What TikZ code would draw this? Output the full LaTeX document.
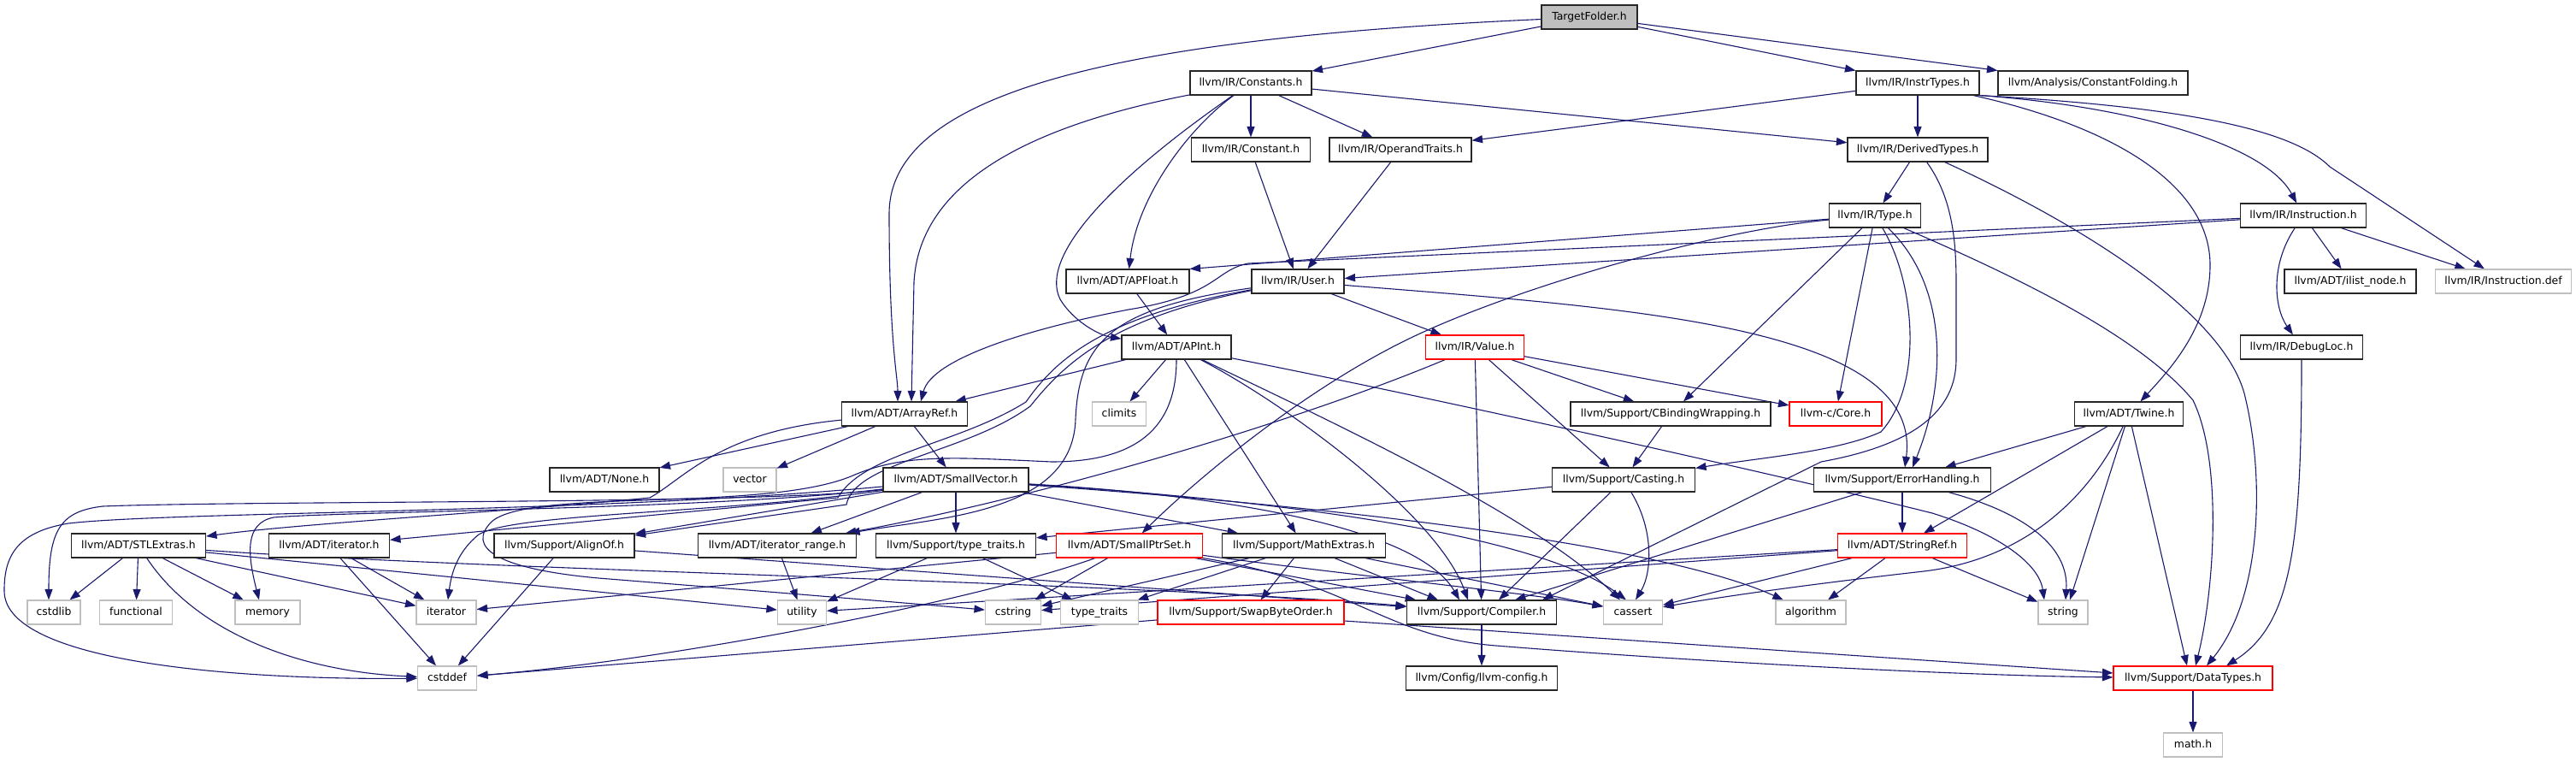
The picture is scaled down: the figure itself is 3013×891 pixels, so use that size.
\documentclass[tikz,border=0pt]{standalone}
\usepackage{fontspec}
\setmainfont{DejaVu Sans}
\usetikzlibrary{arrows.meta}
\definecolor{edgec}{RGB}{25,25,112}
\definecolor{gborder}{RGB}{191,191,191}
\definecolor{tfill}{RGB}{191,191,191}
\definecolor{rborder}{RGB}{255,0,0}
\pgfdeclarelayer{back}
\pgfdeclarelayer{edges}
\pgfsetlayers{back,edges,main}
\begin{document}
\begin{tikzpicture}[x=1pt,y=-1pt,
  nb/.style={draw=black!85, line width=1.1pt, fill=white, minimum height=28pt, inner sep=0pt, text height=9.2pt, text depth=2.6pt, font=\fontsize{12.4}{14}\selectfont},
  box/.style={nb, minimum width=#1pt},
  gbox/.style={nb, draw=gborder, minimum width=#1pt},
  rbox/.style={nb, draw=rborder, minimum width=#1pt},
  e/.style={draw=edgec, line width=1.1pt, -{Triangle[length=12.5pt,width=9pt]}}
]
\useasboundingbox (0,0) rectangle (3013,891);
\begin{pgfonlayer}{back}
\fill[white] (0,0) rectangle (3013,891);
\end{pgfonlayer}

% ---------- nodes ----------
\node[box=112, fill=tfill] (TF) at (1859,20) {TargetFolder.h};
\node[box=142] (Cs) at (1463,97) {llvm/IR/Constants.h};
\node[box=144] (IT) at (2243,97) {llvm/IR/InstrTypes.h};
\node[box=222] (CF) at (2448,97) {llvm/Analysis/ConstantFolding.h};
\node[box=139] (C) at (1463,175) {llvm/IR/Constant.h};
\node[box=166] (OT) at (1638,175) {llvm/IR/OperandTraits.h};
\node[box=164] (DT) at (2243,175) {llvm/IR/DerivedTypes.h};
\node[box=107] (Ty) at (2193,252) {llvm/IR/Type.h};
\node[box=147] (In) at (2694,252) {llvm/IR/Instruction.h};
\node[box=144] (APF) at (1319,329) {llvm/ADT/APFloat.h};
\node[box=108] (U) at (1518,329) {llvm/IR/User.h};
\node[box=154] (IL) at (2749,329) {llvm/ADT/ilist\_node.h};
\node[gbox=159] (ID) at (2928,329) {llvm/IR/Instruction.def};
\node[box=128] (API) at (1376,406) {llvm/ADT/APInt.h};
\node[rbox=115] (V) at (1725,406) {llvm/IR/Value.h};
\node[box=143] (DL) at (2692,406) {llvm/IR/DebugLoc.h};
\node[box=147] (AR) at (1058,484) {llvm/ADT/ArrayRef.h};
\node[gbox=63] (climits) at (1309,484) {climits};
\node[box=234] (CB) at (1954,484) {llvm/Support/CBindingWrapping.h};
\node[rbox=108] (Core) at (2147,484) {llvm-c/Core.h};
\node[box=127] (Tw) at (2490,484) {llvm/ADT/Twine.h};
\node[box=128] (None) at (707,561) {llvm/ADT/None.h};
\node[gbox=62] (vector) at (877,561) {vector};
\node[box=170] (SV) at (1118,561) {llvm/ADT/SmallVector.h};
\node[box=167] (Ca) at (1899,561) {llvm/Support/Casting.h};
\node[box=207] (EH) at (2225,561) {llvm/Support/ErrorHandling.h};
\node[box=157] (STL) at (162,638) {llvm/ADT/STLExtras.h};
\node[box=141] (ith) at (385,638) {llvm/ADT/iterator.h};
\node[box=164] (AO) at (660,638) {llvm/Support/AlignOf.h};
\node[box=185] (IR) at (909,638) {llvm/ADT/iterator\_range.h};
\node[box=187] (TTh) at (1118,638) {llvm/Support/type\_traits.h};
\node[rbox=171] (SPS) at (1321,638) {llvm/ADT/SmallPtrSet.h};
\node[box=191] (ME) at (1525,638) {llvm/Support/MathExtras.h};
\node[rbox=151] (SR) at (2225,638) {llvm/ADT/StringRef.h};
\node[gbox=62] (cstdlib) at (63,716) {cstdlib};
\node[gbox=85] (functional) at (159,716) {functional};
\node[gbox=76] (memory) at (313,716) {memory};
\node[gbox=70] (iterator) at (522,716) {iterator};
\node[gbox=57] (utility) at (938,716) {utility};
\node[gbox=65] (cstring) at (1185,716) {cstring};
\node[gbox=91] (tt) at (1286,716) {type\_traits};
\node[rbox=218] (SBO) at (1463,716) {llvm/Support/SwapByteOrder.h};
\node[box=175] (Co) at (1733,716) {llvm/Support/Compiler.h};
\node[gbox=69] (cassert) at (1910,716) {cassert};
\node[gbox=82] (algorithm) at (2118,716) {algorithm};
\node[gbox=58] (string) at (2413,716) {string};
\node[gbox=69] (cstddef) at (523,793) {cstddef};
\node[box=177] (LC) at (1733,793) {llvm/Config/llvm-config.h};
\node[rbox=186] (DTy) at (2565,793) {llvm/Support/DataTypes.h};
\node[gbox=69] (math) at (2565,871) {math.h};

% ---------- edges ----------
\begin{pgfonlayer}{edges}
% TargetFolder
\draw[e] (TF) -- (Cs);
\draw[e] (TF) -- (IT);
\draw[e] (TF) -- (CF);
\draw[e] (TF) .. controls (1300,45) and (1040,110) .. (1040,250) .. controls (1040,400) and (1050,440) .. ([xshift=-8pt]AR.north);
% Constants
\draw[e] (Cs) .. controls (1190,150) and (1075,220) .. (1069,330) -- ([xshift=8pt]AR.north);
\draw[e] (Cs) .. controls (1390,150) and (1330,230) .. (APF);
\draw[e] (Cs) .. controls (1300,210) and (1215,300) .. (1240,350) .. controls (1255,375) and (1285,392) .. (API);
\draw[e] (Cs) -- (C);
\draw[e] (Cs) -- (OT);
\draw[e] (Cs) -- (DT);
% InstrTypes
\draw[e] (IT) -- (OT);
\draw[e] (IT) -- (DT);
\draw[e] (IT.south east) .. controls (2500,125) and (2650,170) .. (In);
\draw[e] (IT.south east) .. controls (2550,125) and (2680,150) .. (2725,195) -- (ID);
\draw[e] (IT) .. controls (2480,150) and (2585,220) .. (2585,310) .. controls (2585,380) and (2540,430) .. (Tw);
% Constant, OperandTraits
\draw[e] (C) -- (U);
\draw[e] (OT) -- (U);
% DerivedTypes
\draw[e] (DT) -- (Ty);
\draw[e] (DT) .. controls (2283,230) and (2288,280) .. (2288,330) -- (2288,420) .. controls (2288,480) and (2240,520) .. (2130,540) -- ([xshift=71pt]Co.north);
\draw[e] (DT) .. controls (2450,270) and (2600,370) .. (2625,460) .. controls (2650,560) and (2645,700) .. ([xshift=16pt]DTy.north);
% Type
\draw[e] (Ty) -- (APF.north east);
\draw[e] (Ty) .. controls (2000,270) and (1760,340) .. (1640,400) .. controls (1520,460) and (1400,560) .. (SPS);
\draw[e] (Ty) -- (Core);
\draw[e] (Ty) -- (CB);
\draw[e] (Ty) .. controls (2240,330) and (2250,450) .. (2200,505) .. controls (2150,528) and (2060,535) .. (Ca);
\draw[e] (Ty) .. controls (2275,330) and (2280,440) .. ([xshift=12pt]EH.north);
\draw[e] (Ty) .. controls (2350,320) and (2500,390) .. (2565,468) .. controls (2600,540) and (2590,690) .. ([xshift=3pt]DTy.north);
% Instruction
\draw[e] (In) -- (U);
\draw[e] (In) -- (1460,308) .. controls (1420,316) and (1425,345) .. (1320,362) .. controls (1200,385) and (1090,420) .. ([xshift=19pt]AR.north);
\draw[e] (In) -- (IL);
\draw[e] (In) -- (ID);
\draw[e] (In) .. controls (2655,310) and (2660,360) .. (DL);
% APFloat
\draw[e] (APF) -- (API);
% User
\draw[e] (U) -- (V);
\draw[e] (U) .. controls (1900,360) and (2250,380) .. ([xshift=3pt]EH.north);
\draw[e] (U) .. controls (1300,360) and (1262,400) .. (1258,490) .. controls (1255,600) and (1100,605) .. (IR);
\draw[e] (U) .. controls (1290,370) and (1235,420) .. (1200,470) .. controls (1120,520) and (1010,530) .. (980,582) -- (ith);
\draw[e] (U) .. controls (1300,372) and (1245,425) .. (1205,475) .. controls (1130,530) and (1000,540) .. (990,590) -- (AO);
% APInt
\draw[e] (API) -- (AR);
\draw[e] (API) -- (climits);
\draw[e] (API) .. controls (1376,500) and (1330,540) .. (1230,540) .. controls (1120,535) and (1060,530) .. (1000,555) .. controls (900,600) and (620,570) .. (575,610) .. controls (545,640) and (580,665) .. (700,676) .. controls (900,692) and (1060,705) .. (cstring);
\draw[e] (API) -- (ME);
\draw[e] (API) .. controls (1500,470) and (1680,600) .. ([xshift=-16pt]Co.north);
\draw[e] (API) .. controls (1550,490) and (1790,600) .. (cassert);
\draw[e] (API) .. controls (1700,470) and (2100,560) .. (2260,600) .. controls (2340,625) and (2385,660) .. ([xshift=-22pt]string.north);
% Value
\draw[e] (V) .. controls (1500,500) and (1200,585) .. (IR);
\draw[e] (V) -- (Co);
\draw[e] (V) -- (Ca);
\draw[e] (V) -- (CB);
\draw[e] (V) -- (Core);
% ArrayRef
\draw[e] (AR) -- (None);
\draw[e] (AR) -- (vector);
\draw[e] (AR) -- (SV);
\draw[e] (AR) .. controls (840,505) and (800,560) .. (760,582) .. controls (600,598) and (350,612) .. (STL);
% SmallVector
\draw[e] (SV) -- (IR);
\draw[e] (SV) -- (AO);
\draw[e] (SV) -- (TTh);
\draw[e] (SV) -- (ME);
\draw[e] (SV) .. controls (1450,580) and (1660,620) .. ([xshift=-26pt]Co.north);
\draw[e] (SV) .. controls (1500,585) and (1800,625) .. ([xshift=-8pt]cassert.north);
\draw[e] (SV) .. controls (1600,595) and (1950,640) .. (algorithm);
\draw[e] (SV) .. controls (900,590) and (300,585) .. (120,592) .. controls (70,598) and (57,620) .. ([xshift=-6pt]cstdlib.north);
\draw[e] (SV) .. controls (850,595) and (400,598) .. (320,605) .. controls (285,612) and (290,650) .. ([xshift=-10pt]memory.north);
\draw[e] (SV) .. controls (850,600) and (600,600) .. (560,625) .. controls (535,645) and (528,670) .. (iterator);
\draw[e] (SV) .. controls (700,600) and (200,598) .. (80,612) .. controls (20,622) and (5,650) .. (5,690) .. controls (3,770) and (250,795) .. (cstddef);
% STLExtras
\draw[e] (STL) -- (cstdlib);
\draw[e] (STL) -- (functional);
\draw[e] (STL) -- (memory);
\draw[e] (STL) -- (iterator);
\draw[e] (STL) .. controls (230,740) and (350,785) .. (cstddef);
\draw[e] (STL) -- (utility);
\draw[e] (STL) .. controls (600,668) and (1300,680) .. (Co);
% iterator.h, AlignOf, iterator_range, type_traits.h
\draw[e] (ith) -- (iterator);
\draw[e] (ith) -- (cstddef);
\draw[e] (AO) -- (cstddef);
\draw[e] (AO) -- (Co);
\draw[e] (IR) -- (utility);
\draw[e] (TTh) -- (utility);
\draw[e] (TTh) -- (tt);
% SmallPtrSet
\draw[e] (SPS) -- (iterator);
\draw[e] (SPS) .. controls (1150,700) and (800,770) .. (cstddef);
\draw[e] (SPS) -- (cstring);
\draw[e] (SPS) -- (Co);
\draw[e] (SPS) .. controls (1600,675) and (1800,695) .. (cassert);
\draw[e] (SPS.south east) .. controls (1580,680) and (1620,745) .. (1750,755) .. controls (2000,775) and (2300,790) .. (DTy);
% MathExtras
\draw[e] (ME) -- (SBO);
\draw[e] (ME) -- (cstring);
\draw[e] (ME) -- (tt);
\draw[e] (ME) -- ([xshift=-51pt]Co.north);
\draw[e] (ME) -- (cassert);
% SwapByteOrder
\draw[e] (SBO) -- (cstddef);
\draw[e] ([yshift=-10pt]SBO.east) -- ([yshift=6pt]DTy.west);
% Compiler
\draw[e] (Co) -- (LC);
% Casting, CBindingWrapping
\draw[e] (Ca) -- (TTh);
\draw[e] (Ca) -- ([xshift=20pt]Co.north);
\draw[e] (Ca) .. controls (1935,620) and (1932,670) .. ([xshift=3pt]cassert.north);
\draw[e] (CB) -- (Ca);
% ErrorHandling
\draw[e] (EH) -- (SR);
\draw[e] (EH) -- ([xshift=39pt]Co.north);
\draw[e] (EH) .. controls (2370,600) and (2420,640) .. ([xshift=3pt]string.north);
% Twine
\draw[e] (Tw) -- (EH);
\draw[e] (Tw) -- (SR);
\draw[e] (Tw) .. controls (2440,590) and (2360,655) .. (2250,668) .. controls (2100,685) and (2000,700) .. (cassert);
\draw[e] (Tw) -- ([xshift=8pt]string.north);
\draw[e] (Tw) -- ([xshift=-7pt]DTy.north);
% StringRef
\draw[e] (SR) -- (utility);
\draw[e] (SR) -- (cstring);
\draw[e] (SR) -- (cassert);
\draw[e] (SR) -- (algorithm);
\draw[e] (SR) -- (string);
% DebugLoc, DataTypes
\draw[e] (DL) .. controls (2692,640) and (2680,730) .. ([xshift=39pt]DTy.north);
\draw[e] (DTy) -- (math);
\end{pgfonlayer}
\end{tikzpicture}
\end{document}
